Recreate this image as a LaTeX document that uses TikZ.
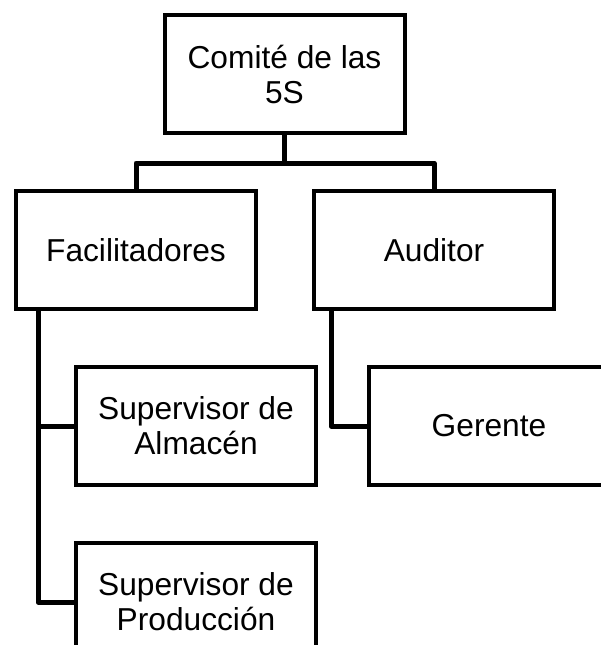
\documentclass[tikz,border=0pt]{standalone}
\usepackage{fontspec}
\setmainfont{Liberation Sans}
\usetikzlibrary{positioning}

\begin{document}
\begin{tikzpicture}[font=\fontsize{31.7pt}{35pt}\selectfont,
    node distance=54pt and 54pt,
    rolebox/.style={shape=rectangle,
      draw,
      line width=4pt,
      fill=white,
      align=center,
      minimum width=240pt,
      minimum height=118pt,
      inner sep=0pt},
    orgline/.style={line width=5pt,
      line join=round}]
    \useasboundingbox (0,0) rectangle (601pt,-645pt);
    \clip (0,0) rectangle (601pt,-645pt);

    \node[name=comite,
      rolebox] at (284.5pt,-74pt) {Comité de las\\5S};

    \node[name=facil,
      rolebox,
      below=of comite,
      xshift=-148.5pt] {Facilitadores};

    \node[name=auditor,
      rolebox,
      below=of comite,
      xshift=149.5pt] {Auditor};

    \node[name=almacen,
      rolebox,
      below=of facil,
      xshift=60pt] {Supervisor de\\Almacén};

    \node[name=produccion,
      rolebox,
      below=of almacen] {Supervisor de\\Producción};

    \node[name=gerente,
      rolebox,
      below=of auditor,
      xshift=55pt] {Gerente};

    \coordinate (split) at ([yshift=-28pt]comite.south);
    \draw[orgline] (comite.south) -- (split);
    \draw[orgline] (facil.north) |- (split) -| (auditor.north);

    \draw[orgline] ([xshift=24pt]facil.south west) |- (produccion.west);
    \draw[orgline] ([xshift=24pt]facil.south west |- almacen.west) -- (almacen.west);
    \draw[orgline] ([xshift=19pt]auditor.south west) |- (gerente.west);
  \end{tikzpicture}
\end{document}
